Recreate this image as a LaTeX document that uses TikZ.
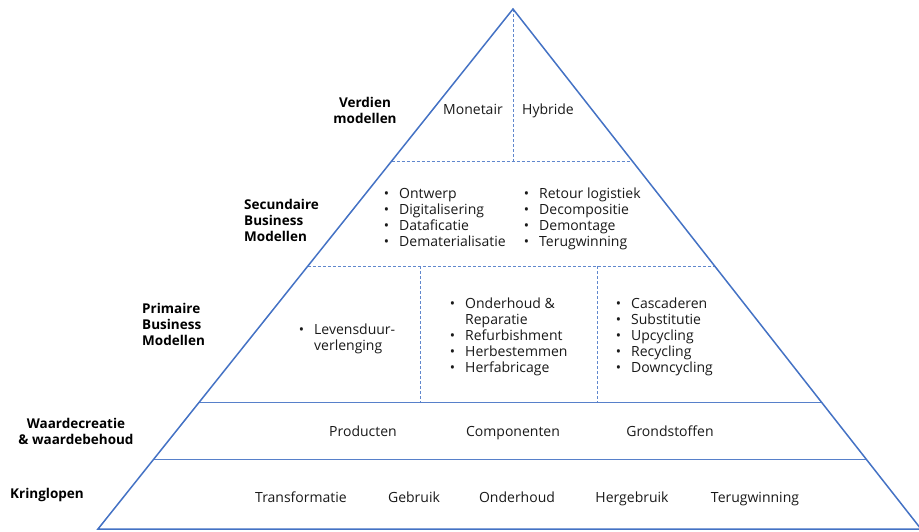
\documentclass[tikz,border=0pt]{standalone}
\usepackage{fontspec}
\setmainfont{Open Sans}
\usetikzlibrary{calc}
\definecolor{pyrblue}{HTML}{4472C4}
\newcommand{\blt}{\llap{\textbullet\hspace{10pt}}}

\begin{document}
\begin{tikzpicture}[x=1pt, y=-1pt,
    frame/.style={draw=pyrblue, line width=1.5pt, line join=miter},
    divider/.style={draw=pyrblue!85, line width=0.8pt, dash pattern=on 3pt off 2pt},
    floor/.style={draw=pyrblue!90, line width=1pt},
    tierlabel/.style={font=\fontsize{13.5}{16}\selectfont\bfseries, inner sep=0pt, align=left},
    word/.style={font=\fontsize{14}{16}\selectfont, inner sep=0pt, anchor=base, text=black!90},
    listitem/.style={word, anchor=base west}]
    \useasboundingbox (0,0) rectangle (919,531);

    % Frame {apex, corners, floors}
    \coordinate (apex) at (513,9);
    \coordinate (bl)   at (98,529);
    \coordinate (br)   at (921,529);
    \foreach \n/\f in {1/0.29231, 2/0.49423, 3/0.75577, 4/0.86538} {
        \coordinate (l\n) at ($(apex)!\f!(bl)$);
        \coordinate (r\n) at ($(apex)!\f!(br)$);
    }
    \coordinate (d1) at (420,266);
    \coordinate (d2) at (597,266);

    % Paths
    \draw [divider] (l1) -- (r1);
    \draw [divider] (l2) -- (r2);
    \draw [divider] (apex) -- (apex |- l1);
    \draw [divider] (d1) -- (d1 |- l3);
    \draw [divider] (d2) -- (d2 |- l3);
    \draw [floor]   (l3) -- (r3);
    \draw [floor]   (l4) -- (r4);
    \draw [frame]   (apex) -- (br) -- (bl) -- cycle;

    % Tier labels
    \node [tierlabel, align=center] (verdien)   at (365,110) {Verdien\\modellen};
    \node [tierlabel, anchor=west]  (secundair) at (244,220) {Secundaire\\Business\\Modellen};
    \node [tierlabel, anchor=west]  (primair)   at (142,324) {Primaire\\Business\\Modellen};
    \node [tierlabel, align=center] (waarde)    at (76,431)  {Waardecreatie\\\& waardebehoud};
    \node [tierlabel]               (kring)     at (47,495)  {Kringlopen};

    % Verdien modellen
    \node [word] (monetair) at (473,114.5) {Monetair};
    \node [word] (hybride)  at (548,114.5) {Hybride};

    % Secundaire business modellen
    \foreach \txt [count=\i] in {Ontwerp, Digitalisering, Dataficatie, Dematerialisatie}
        \node [listitem] (sa\i) at (399,182+16*\i) {\blt\txt};
    \foreach \txt [count=\i] in {Retour logistiek, Decompositie, Demontage, Terugwinning}
        \node [listitem] (sb\i) at (539,182+16*\i) {\blt\txt};

    % Primaire business modellen
    \node [listitem] (pa1) at (314,334) {\blt Levensduur-};
    \node [listitem] (pa2) at (314,350) {verlenging};
    \node [listitem] (pb1) at (465,308) {\blt Onderhoud \&};
    \node [listitem] (pb2) at (465,324.2) {Reparatie};
    \foreach \txt [count=\i from 3] in {Refurbishment, Herbestemmen, Herfabricage}
        \node [listitem] (pb\i) at (465,291.8+16.2*\i) {\blt\txt};
    \foreach \txt [count=\i] in {Cascaderen, Substitutie, Upcycling, Recycling, Downcycling}
        \node [listitem] (pc\i) at (631,291.8+16.2*\i) {\blt\txt};

    % Waardecreatie & waardebehoud
    \node [word] (producten)   at (363,436) {Producten};
    \node [word] (componenten) at (513,436) {Componenten};
    \node [word] (grondstof)   at (670,436) {Grondstoffen};

    % Kringlopen
    \node [word] (transform) at (301,502) {Transformatie};
    \node [word] (gebruik)   at (414,502) {Gebruik};
    \node [word] (onderhoud) at (517,502) {Onderhoud};
    \node [word] (hergebr)   at (632,502) {Hergebruik};
    \node [word] (terugw)    at (755,502) {Terugwinning};

\end{tikzpicture}
\end{document}
